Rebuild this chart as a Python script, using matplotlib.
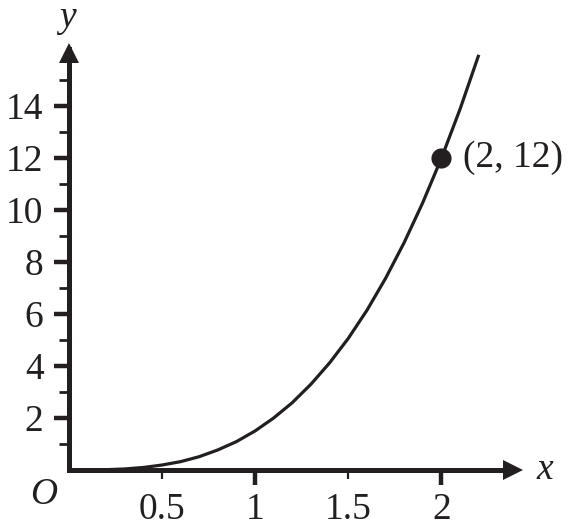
import matplotlib
matplotlib.use("Agg")
import matplotlib.pyplot as plt

# Data
x_vals = [0.0, 0.1, 0.2, 0.3, 0.4, 0.5, 0.6, 0.7, 0.8, 0.9, 1.0, 1.1,
          1.2, 1.3, 1.4, 1.5, 1.6, 1.7, 1.8, 1.9, 2.0, 2.1, 2.2]
y_vals = [0.0, 0.0015, 0.012, 0.04, 0.096, 0.19, 0.32, 0.51, 0.77, 1.09,
          1.5, 2.0, 2.59, 3.30, 4.12, 5.06, 6.14, 7.37, 8.75, 10.29,
          12.0, 13.89, 15.97]
point_x = [2]
point_y = [12]
point_label = "(2, 12)"
x_major = [1, 2]
x_major_labels = ["1", "2"]
x_minor = [0.5, 1.5]
x_minor_labels = ["0.5", "1.5"]
y_major = [2, 4, 6, 8, 10, 12, 14]
y_major_labels = ["2", "4", "6", "8", "10", "12", "14"]
y_minor = [1, 3, 5, 7, 9, 11, 13, 15]

C = "#231f20"
FONT = "Liberation Serif"
FS = 27

fig = plt.figure(figsize=(5.74, 5.30), dpi=100)
ax = fig.add_axes([0, 0, 1, 1])
ax.set_xlim(-0.3673, 2.7105)
ax.set_ylim(-2.3077, 18.077)
ax.set_facecolor("white")

for s in ["top", "right"]:
    ax.spines[s].set_visible(False)
for s in ["left", "bottom"]:
    ax.spines[s].set_position(("data", 0))
    ax.spines[s].set_linewidth(3.6)
    ax.spines[s].set_color(C)
    ax.spines[s].set_capstyle("projecting")
ax.spines["left"].set_bounds(0, 16.2)
ax.spines["bottom"].set_bounds(0, 2.36)

# arrowheads
ax.plot([0], [16.04], marker="^", markersize=15, color=C, clip_on=False,
        markeredgewidth=0)
ax.plot([2.383], [0], marker=">", markersize=15, color=C, clip_on=False,
        markeredgewidth=0)

ax.set_xticks(x_major, labels=x_major_labels)
ax.set_xticks(x_minor, labels=x_minor_labels, minor=True)
ax.set_yticks(y_major, labels=y_major_labels)
ax.set_yticks(y_minor, minor=True)

ax.tick_params(axis="x", which="major", direction="out", length=11, width=3.2,
               color=C, pad=5, labelsize=FS, labelcolor=C)
ax.tick_params(axis="x", which="minor", direction="out", length=6.5, width=1.6,
               color=C, pad=9.5, labelsize=FS, labelcolor=C)
ax.tick_params(axis="y", which="major", direction="out", length=11, width=3.2,
               color=C, pad=7, labelsize=FS, labelcolor=C)
ax.tick_params(axis="y", which="minor", direction="out", length=7.5, width=2.0,
               color=C)
for lab in ax.get_xticklabels(which="both") + ax.get_yticklabels():
    lab.set_fontfamily(FONT)

# curve
ax.plot(x_vals, y_vals, color=C, lw=2.3, solid_capstyle="butt")

# point
ax.plot(point_x, point_y, "o", markersize=14.5, color=C, markeredgewidth=0)
ax.annotate(point_label, xy=(point_x[0], point_y[0]), xytext=(15.5, 0),
            textcoords="offset points", ha="left", va="center",
            fontsize=FS, fontfamily=FONT, color=C)

# axis letters
ax.text(-0.005, 17.40, "y", fontsize=FS, fontfamily=FONT, style="italic",
        color=C, ha="center", va="center")
ax.text(2.555, 0.0, "x", fontsize=FS, fontfamily=FONT, style="italic",
        color=C, ha="center", va="center")
ax.text(-0.135, -0.95, "O", fontsize=FS, fontfamily=FONT, style="italic",
        color=C, ha="center", va="center")

fig.savefig("out.png", dpi=100, facecolor="white")
